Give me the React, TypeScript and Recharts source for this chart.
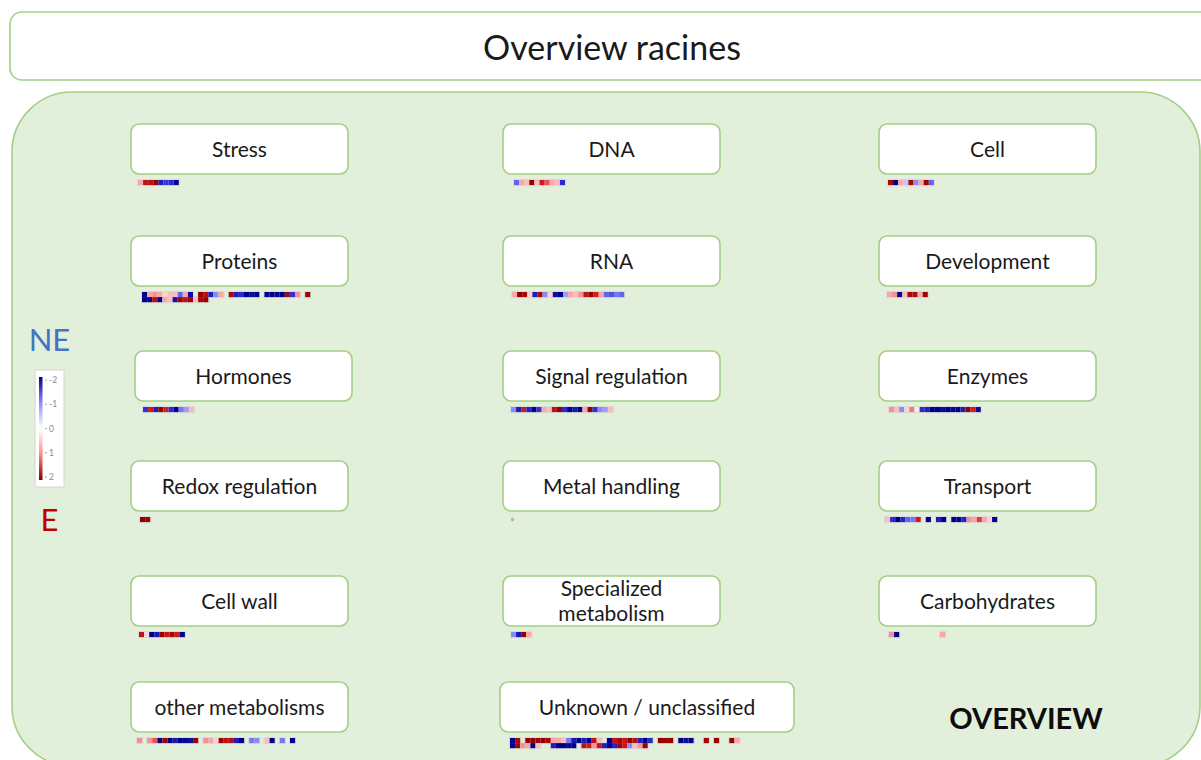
import React from 'react';
import { ScatterChart, Scatter, XAxis, YAxis, ReferenceArea } from 'recharts';

const W = 1201;
const H = 760;
const FONT = 'Lato, "Open Sans", sans-serif';

// ---------- texts ----------
const titleText = 'Overview racines';
const overviewText = 'OVERVIEW';
const legendTop = 'NE';
const legendBottom = 'E';
const legendTicks = ['-2', '-1', '0', '1', '2'];

const categories = [
  'Stress', 'DNA', 'Cell',
  'Proteins', 'RNA', 'Development',
  'Hormones', 'Signal regulation', 'Enzymes',
  'Redox regulation', 'Metal handling', 'Transport',
  'Cell wall', 'Specialized\nmetabolism', 'Carbohydrates',
  'other metabolisms', 'Unknown / unclassified',
];

// ---------- heat-map values (negative = NE / blue, positive = E / red) ----------
type V = number | null | 'NA';
const stress: V[] = [0.4, 1.5, 1.6, 2, -1.5, -1.1, -1.3, -1.9];
const dna: V[] = [-0.8, 0.4, 0.3, 2, 0.3, 1.3, 0.8, 0.4, 0.3, -1.3];
const cell: V[] = [1.8, -2, 0.4, -0.3, 1.8, -0.6, 0.4, 1.9, -0.8];
const proteinsA: V[] = [-2, 0.4, 0.5, 0.4, 0.2, 0.3, 0.3, -0.8, 0.4, -1.8, null, 2, 1.6, -1.5, -0.6, 0.4, null, 1.8, -1.5, -1.3, -2, -1.8, -2, null, -2, -2, -1.9, -2, 1.8, -1.2, 0.5, null, 1.9];
const proteinsB: V[] = [-2, -2, 1.6, -2, 0.4, 0.3, -1.7, 1.9, 1.5, 1.9, 0.3, 1.8, 2];
const rna: V[] = [0.4, 2, 1.8, 0.2, -1.5, 1.8, -0.6, 0.2, -1.8, -2, -0.5, 0.4, 0.3, 0.5, 1.5, 2, 1.2, 0.4, -0.8, -0.9, -0.7, -0.8];
const development: V[] = [0.4, 0.5, -2, 0.3, 1.8, 1.7, 0.4, 1.9];
const hormones: V[] = [-1.2, 1.3, -1.5, 2, 1.2, -1.3, -2, -0.7, -0.5, 0.3];
const signalRegulation: V[] = [-0.6, -1.5, 1.3, -1.4, -2, -1.2, 0.4, 0.3, 1.5, 2, -1.3, -2, -1.6, -2, 0.4, 2, -1.2, -0.6, -0.5, 0.3];
const enzymes: V[] = [0.5, 0.3, -0.6, 0.2, 0.6, 0.1, -1.3, -1.5, -2, -2, -1.8, -2, -1.9, -2, -1.5, 2, 1.2, -1.8];
const redox: V[] = [2, 1.9];
const metalHandling: V[] = ['NA'];
const transport: V[] = [0.3, -1.3, -2, -1.4, -0.8, -0.7, 1.3, null, -2, null, -1.5, -2, null, -2, -1.9, -1.4, 0.5, 0.4, 0.9, 0.4, 0.2, -2];
const cellWall: V[] = [1.5, 0.2, -2, -1.6, 2, 1.4, 1.8, 1.3, -2];
const specialized: V[] = [-0.6, -1.6, 2, 0.4];
const carbohydrates: V[] = [0.5, -2, null, null, null, null, null, null, null, null, 0.4];
const otherMetabolisms: V[] = [0.5, null, 0.5, 0.8, -2, 1.9, -2, -1.6, -2, -1.9, -1.8, 2, null, 0.5, 0.4, 0.2, 1.9, 1.5, 1.6, -1.5, -2, null, -0.7, -0.6, null, 0.3, -2, null, -0.7, null, -2];
const unknownA: V[] = [-2, 1.8, null, 2, 2, 1.9, 2, 1.8, 0.4, 0.4, 0.3, -0.7, -1.6, -2, -1.5, -2, 1.5, 0.3, null, -2, 1.5, 1.8, 1.4, 2, 1.6, -1.5, -2, -1.3, null, 2, 1.9, 2, null, -2, -1.8, -2, null, null, 1.9, null, 2, null, null, 2, 0.4];
const unknownB: V[] = [-2, 1.9, 0.5, 0.4, -2, 0.3, null, null, -1.5, -2, -2, -1.9, -2, null, 1.5, 1.3, 0.5, 1.4, -1.5, -2, -1.4, 1.9, 1.4, -0.6, 0.3, 0.5, 1.9];

const groupRows: V[][][] = [
  [stress], [dna], [cell],
  [proteinsA, proteinsB], [rna], [development],
  [hormones], [signalRegulation], [enzymes],
  [redox], [metalHandling], [transport],
  [cellWall], [specialized], [carbohydrates],
  [otherMetabolisms], [unknownA, unknownB],
];

// ---------- layout ----------
const COL_X = [131, 503, 879];
const ROW_Y = [124, 236, 351, 461, 576, 682];
const BOX_W = 217;
const BOX_H = 50;
const CELL = 5.1;
const STRIP_GAP = 6;
const boxDx = [0, 0, 0, 0, 0, 0, 4, 0, 0, 0, 0, 0, 0, 0, 0, 0, -3];
const boxWExtra = [0, 0, 0, 0, 0, 0, 0, 0, 0, 0, 0, 0, 0, 0, 0, 0, 77];
const stripDx = [7, 11, 9, 11, 9, 8, 8, 8, 10, 9, 7, 6, 8, 8, 10, 6, 10];

const boxOf = (i: number) => {
  const x = COL_X[i % 3] + boxDx[i];
  const y = ROW_Y[Math.floor(i / 3)];
  return { x, y, w: BOX_W + boxWExtra[i], h: BOX_H };
};

const cellData = categories.flatMap((_, gi) => {
  const b = boxOf(gi);
  const x0 = b.x + stripDx[gi];
  const y0 = b.y + b.h + STRIP_GAP;
  return groupRows[gi].flatMap((row, ri) =>
    row
      .map((v, i) => ({ x: x0 + (i + 0.5) * CELL, y: y0 + (ri + 0.5) * CELL, v }))
      .filter((d) => d.v !== null)
  );
});

// frames around each contiguous run of cells
const frames = categories.flatMap((_, gi) => {
  const b = boxOf(gi);
  const x0 = b.x + stripDx[gi];
  const y0 = b.y + b.h + STRIP_GAP;
  const out: { x1: number; x2: number; y1: number; y2: number }[] = [];
  groupRows[gi].forEach((row, ri) => {
    let start = -1;
    row.forEach((v, i) => {
      const on = v !== null && v !== 'NA';
      if (on && start < 0) start = i;
      const end = !on || i === row.length - 1;
      if (start >= 0 && end) {
        const last = on ? i : i - 1;
        out.push({ x1: x0 + start * CELL - 0.6, x2: x0 + (last + 1) * CELL + 0.6, y1: y0 + ri * CELL - 0.6, y2: y0 + (ri + 1) * CELL + 0.6 });
        start = -1;
      }
    });
  });
  return out;
});

const mix = (a: number[], b: number[], k: number) =>
  `rgb(${a.map((c, i) => Math.round(c + (b[i] - c) * k)).join(',')})`;

const cellColor = (v: number) => {
  const t = Math.min(1, Math.abs(v) / 2);
  const white = [255, 255, 255];
  if (v >= 0) {
    return t < 0.5 ? mix(white, [232, 35, 40], t / 0.5) : mix([232, 35, 40], [150, 0, 0], (t - 0.5) / 0.5);
  }
  return t < 0.5 ? mix(white, [60, 60, 235], t / 0.5) : mix([60, 60, 235], [0, 0, 140], (t - 0.5) / 0.5);
};

const CellShape = (p: any) => {
  const v = p.payload.v;
  if (v === 'NA') {
    return <ellipse cx={p.cx} cy={p.cy} rx={1.6} ry={2} fill="#b7b7b7" />;
  }
  return <rect x={p.cx - CELL / 2} y={p.cy - CELL / 2} width={CELL} height={CELL} fill={cellColor(v)} />;
};

const BOX_STROKE = '#a3cf87';

const LabelBox = (label: string) => (p: any) => {
  const lines = label.split('\n');
  const cx = p.x + p.width / 2;
  const cy = p.y + p.height / 2;
  return (
    <g>
      <rect x={p.x} y={p.y} width={p.width} height={p.height} rx={8} ry={8} fill="#ffffff" stroke={BOX_STROKE} strokeWidth={1.6} />
      {lines.map((l, i) => (
        <text key={i} x={cx} y={cy - 1 + (i - (lines.length - 1) / 2) * 25} textAnchor="middle" dominantBaseline="central"
          fontFamily={FONT} fontSize={21} fill="#1a1a1a">{l}</text>
      ))}
    </g>
  );
};

const TitleShape = (p: any) => (
  <g>
    <rect x={p.x} y={p.y} width={p.width} height={p.height} rx={12} ry={12} fill="#ffffff" stroke={BOX_STROKE} strokeWidth={1.6} />
    <text x={612} y={p.y + p.height / 2} textAnchor="middle" dominantBaseline="central" fontFamily={FONT} fontSize={34} fill="#1a1a1a">{titleText}</text>
  </g>
);

const PanelShape = (p: any) => (
  <rect x={p.x} y={p.y} width={p.width} height={p.height} rx={60} ry={60} fill="#e2efda" stroke={BOX_STROKE} strokeWidth={1.6} />
);

const FrameShape = (p: any) => (
  <rect x={p.x} y={p.y} width={p.width} height={p.height} fill="none" stroke="#d6d6d6" strokeWidth={0.8} />
);

const LegendShape = (p: any) => {
  const barX = p.x + 4;
  const barY = p.y + 7;
  const barH = p.height - 14;
  return (
    <g>
      <defs>
        <linearGradient id="heatGrad" x1="0" y1="0" x2="0" y2="1">
          <stop offset="0%" stopColor="#000080" />
          <stop offset="25%" stopColor="#8c8cff" />
          <stop offset="50%" stopColor="#ffffff" />
          <stop offset="75%" stopColor="#ff8c8c" />
          <stop offset="100%" stopColor="#800000" />
        </linearGradient>
      </defs>
      <rect x={p.x} y={p.y} width={p.width} height={p.height} fill="#ffffff" stroke="#d4d4d4" strokeWidth={1} />
      <rect x={barX} y={barY} width={3.5} height={barH} fill="url(#heatGrad)" />
      {legendTicks.map((t, i) => {
        const ty = barY + 3 + (i * (barH - 6)) / (legendTicks.length - 1);
        return (
          <g key={t}>
            <line x1={barX + 6} x2={barX + 8} y1={ty} y2={ty} stroke="#8a8a8a" strokeWidth={0.8} />
            <text x={barX + 10} y={ty} dominantBaseline="central" fontFamily={FONT} fontSize={8.5} fill="#8a8a8a">{t}</text>
          </g>
        );
      })}
      <text x={p.x + p.width / 2} y={p.y - 31} textAnchor="middle" dominantBaseline="central" fontFamily={FONT} fontSize={31} fill="#4472c4">{legendTop}</text>
      <text x={p.x + p.width / 2} y={p.y + p.height + 32} textAnchor="middle" dominantBaseline="central" fontFamily={FONT} fontSize={31} fill="#c00000">{legendBottom}</text>
    </g>
  );
};

const OverviewShape = (p: any) => (
  <text x={p.x + p.width / 2} y={p.y + p.height / 2} textAnchor="middle" dominantBaseline="central" fontFamily={FONT} fontSize={29} fontWeight={700} fill="#0d0d0d">{overviewText}</text>
);

export default function App() {
  return (
    <div style={{ position: 'absolute', left: 0, top: 0, width: W, height: H, background: '#ffffff' }}>
      <ScatterChart width={W} height={H} margin={{ top: 0, right: 0, bottom: 0, left: 0 }}>
        <XAxis type="number" dataKey="x" domain={[0, W]} hide allowDataOverflow />
        <YAxis type="number" dataKey="y" domain={[0, H]} reversed hide allowDataOverflow />
        <ReferenceArea x1={10} x2={1230} y1={12} y2={80} ifOverflow="visible" shape={TitleShape} />
        <ReferenceArea x1={12} x2={1200} y1={92} y2={766} ifOverflow="visible" shape={PanelShape} />
        {categories.map((c, i) => {
          const b = boxOf(i);
          return <ReferenceArea key={c} x1={b.x} x2={b.x + b.w} y1={b.y} y2={b.y + b.h} ifOverflow="visible" shape={LabelBox(c)} />;
        })}
        {frames.map((f, i) => (
          <ReferenceArea key={'f' + i} x1={f.x1} x2={f.x2} y1={f.y1} y2={f.y2} ifOverflow="visible" shape={FrameShape} />
        ))}
        <ReferenceArea x1={35} x2={64} y1={370} y2={487} ifOverflow="visible" shape={LegendShape} />
        <ReferenceArea x1={946} x2={1106} y1={700} y2={734} ifOverflow="visible" shape={OverviewShape} />
        <Scatter data={cellData} shape={CellShape} isAnimationActive={false} />
      </ScatterChart>
    </div>
  );
}
